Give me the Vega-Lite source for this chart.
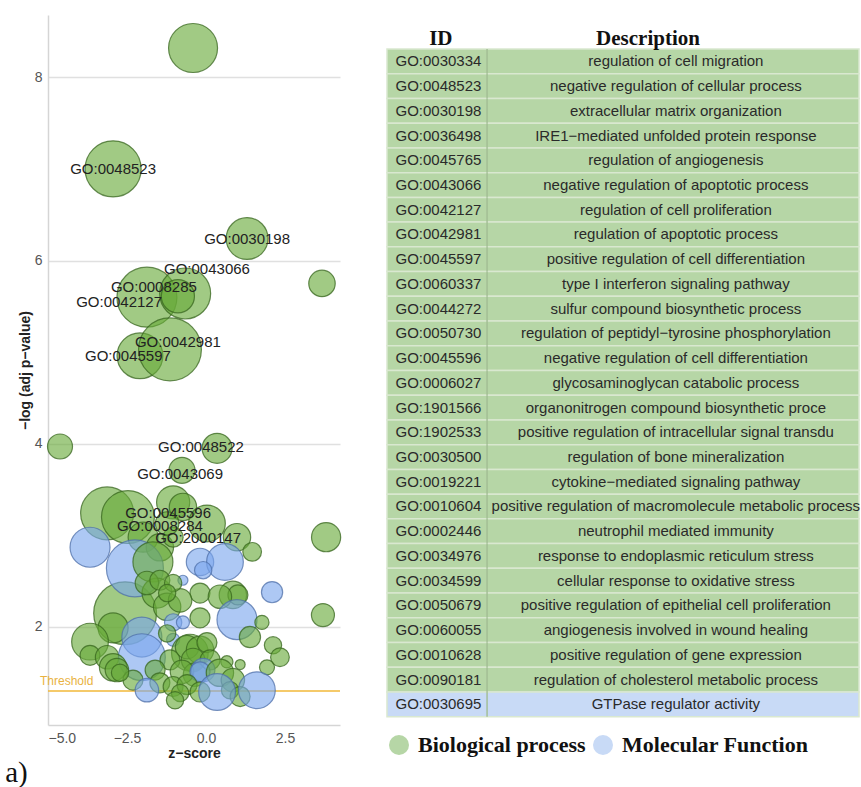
{
  "$schema": "https://vega.github.io/schema/vega-lite/v6.json",
  "background": "white",
  "padding": {"left": 5, "top": 15, "right": 0, "bottom": 0},
  "spacing": 42,
  "title": {"text": "a)", "orient": "bottom", "anchor": "start", "font": "Liberation Serif", "fontSize": 29, "fontWeight": "normal", "color": "#111111", "dx": -13, "offset": -1},
  "config": {
    "view": {"stroke": null},
    "font": "Liberation Sans",
    "axis": {
      "ticks": false,
      "labelFont": "Liberation Sans",
      "labelFontSize": 14,
      "labelColor": "#555555",
      "titleFont": "Liberation Sans",
      "titleFontSize": 14,
      "titleFontWeight": "bold",
      "titleColor": "#222222",
      "domainColor": "#d5d5d5",
      "domainWidth": 1.5,
      "gridColor": "#e0e0e0",
      "gridWidth": 1.5
    }
  },
  "resolve": {"scale": {"x": "independent", "y": "independent", "fill": "independent", "stroke": "independent", "color": "independent", "size": "independent"}, "legend": {"fill": "independent"}},
  "hconcat": [
    {
      "width": 292,
      "height": 710,
      "layer": [
        {
          "data": {"values": [{"logp": 1.3}]},
          "mark": {"type": "rule", "color": "#f2b838", "strokeWidth": 1.5},
          "encoding": {
            "y": {"field": "logp", "type": "quantitative", "title": "−log (adj p−value)", "scale": {"domain": [0.93, 8.68], "nice": false, "zero": false}}
          }
        },
        {
          "data": {"values": [{"logp": 1.3}]},
          "mark": {"type": "text", "text": "Threshold", "align": "left", "baseline": "bottom", "dx": -8, "dy": -3, "fontSize": 12, "color": "#e9b23f"},
          "encoding": {
            "x": {"datum": -5, "type": "quantitative", "title": "z−score", "scale": {"domain": [-5, 4.24], "nice": false, "zero": false}},
            "y": {"field": "logp", "type": "quantitative", "title": "−log (adj p−value)", "scale": {"domain": [0.93, 8.68], "nice": false, "zero": false}}
          }
        },
        {
          "data": {"values": [
            {"z": -0.41, "logp": 8.32, "count": 48, "ont": "BP"},
            {"z": -2.94, "logp": 7.00, "count": 63, "ont": "BP"},
            {"z": 1.30, "logp": 6.24, "count": 35, "ont": "BP"},
            {"z": 3.67, "logp": 5.75, "count": 14, "ont": "BP"},
            {"z": -1.87, "logp": 5.60, "count": 72, "ont": "BP"},
            {"z": -0.66, "logp": 5.64, "count": 52, "ont": "BP"},
            {"z": -0.89, "logp": 5.61, "count": 22, "ont": "BP"},
            {"z": -2.09, "logp": 4.96, "count": 42, "ont": "BP"},
            {"z": -1.14, "logp": 5.03, "count": 79, "ont": "BP"},
            {"z": -4.62, "logp": 3.97, "count": 12.5, "ont": "BP"},
            {"z": 0.35, "logp": 3.95, "count": 18, "ont": "BP"},
            {"z": -0.76, "logp": 3.71, "count": 13.5, "ont": "BP"},
            {"z": 3.80, "logp": 2.98, "count": 17, "ont": "BP"},
            {"z": 3.70, "logp": 2.13, "count": 10.6, "ont": "BP"},
            {"z": -3.13, "logp": 3.24, "count": 56, "ont": "BP"},
            {"z": -2.47, "logp": 3.20, "count": 56, "ont": "BP"},
            {"z": -2.56, "logp": 2.15, "count": 79, "ont": "BP"},
            {"z": -1.04, "logp": 3.36, "count": 22, "ont": "BP"},
            {"z": -0.73, "logp": 3.31, "count": 15, "ont": "BP"},
            {"z": 0.03, "logp": 3.13, "count": 27, "ont": "BP"},
            {"z": 0.98, "logp": 2.98, "count": 15, "ont": "BP"},
            {"z": 1.46, "logp": 2.82, "count": 7, "ont": "BP"},
            {"z": -1.99, "logp": 2.98, "count": 18, "ont": "BP"},
            {"z": -1.46, "logp": 2.87, "count": 15, "ont": "BP"},
            {"z": -1.04, "logp": 2.98, "count": 8, "ont": "BP"},
            {"z": -1.23, "logp": 3.13, "count": 11, "ont": "BP"},
            {"z": -3.67, "logp": 2.87, "count": 32, "ont": "MF"},
            {"z": -2.25, "logp": 2.64, "count": 65, "ont": "MF"},
            {"z": -1.68, "logp": 2.71, "count": 32, "ont": "BP"},
            {"z": -0.19, "logp": 2.71, "count": 15, "ont": "MF"},
            {"z": 0.60, "logp": 2.71, "count": 27, "ont": "MF"},
            {"z": -0.09, "logp": 2.62, "count": 6, "ont": "MF"},
            {"z": -0.73, "logp": 2.51, "count": 2, "ont": "MF"},
            {"z": 2.09, "logp": 2.38, "count": 9, "ont": "MF"},
            {"z": -0.19, "logp": 2.37, "count": 8, "ont": "BP"},
            {"z": 0.85, "logp": 2.35, "count": 15, "ont": "BP"},
            {"z": 1.01, "logp": 2.35, "count": 8, "ont": "BP"},
            {"z": 0.44, "logp": 2.33, "count": 11, "ont": "BP"},
            {"z": -1.55, "logp": 2.37, "count": 18, "ont": "BP"},
            {"z": -1.23, "logp": 2.22, "count": 15, "ont": "BP"},
            {"z": -0.82, "logp": 2.29, "count": 11, "ont": "BP"},
            {"z": -1.87, "logp": 2.48, "count": 11, "ont": "BP"},
            {"z": -1.46, "logp": 2.51, "count": 8, "ont": "BP"},
            {"z": -1.04, "logp": 2.48, "count": 6, "ont": "BP"},
            {"z": -1.23, "logp": 2.37, "count": 6, "ont": "BP"},
            {"z": 0.98, "logp": 2.08, "count": 32, "ont": "MF"},
            {"z": 1.77, "logp": 2.05, "count": 4, "ont": "BP"},
            {"z": -1.04, "logp": 2.05, "count": 6, "ont": "MF"},
            {"z": -0.73, "logp": 2.05, "count": 3.4, "ont": "MF"},
            {"z": -0.19, "logp": 2.10, "count": 8, "ont": "BP"},
            {"z": 1.39, "logp": 1.89, "count": 9, "ont": "BP"},
            {"z": -2.94, "logp": 1.99, "count": 18, "ont": "BP"},
            {"z": -3.67, "logp": 1.84, "count": 27, "ont": "BP"},
            {"z": -3.67, "logp": 1.69, "count": 8, "ont": "BP"},
            {"z": -3.13, "logp": 1.67, "count": 11, "ont": "BP"},
            {"z": -2.03, "logp": 1.89, "count": 32, "ont": "MF"},
            {"z": -2.03, "logp": 1.67, "count": 44, "ont": "MF"},
            {"z": -1.04, "logp": 1.86, "count": 3.4, "ont": "MF"},
            {"z": -2.94, "logp": 1.56, "count": 15, "ont": "BP"},
            {"z": -2.82, "logp": 1.53, "count": 11, "ont": "BP"},
            {"z": -1.23, "logp": 1.93, "count": 6, "ont": "BP"},
            {"z": -0.51, "logp": 1.72, "count": 27, "ont": "BP"},
            {"z": -0.60, "logp": 1.78, "count": 11, "ont": "BP"},
            {"z": -0.19, "logp": 1.75, "count": 15, "ont": "BP"},
            {"z": -0.41, "logp": 1.64, "count": 11, "ont": "BP"},
            {"z": 0.03, "logp": 1.83, "count": 8, "ont": "BP"},
            {"z": 2.12, "logp": 1.80, "count": 6, "ont": "BP"},
            {"z": 2.34, "logp": 1.67, "count": 7, "ont": "BP"},
            {"z": 1.93, "logp": 1.56, "count": 4.5, "ont": "BP"},
            {"z": 1.08, "logp": 1.59, "count": 2, "ont": "BP"},
            {"z": 0.66, "logp": 1.62, "count": 3, "ont": "BP"},
            {"z": -1.14, "logp": 1.64, "count": 8, "ont": "BP"},
            {"z": -1.61, "logp": 1.53, "count": 8, "ont": "BP"},
            {"z": -0.35, "logp": 1.48, "count": 11, "ont": "BP"},
            {"z": 0.13, "logp": 1.64, "count": 8, "ont": "BP"},
            {"z": -0.76, "logp": 1.51, "count": 11, "ont": "BP"},
            {"z": -0.09, "logp": 1.53, "count": 11, "ont": "MF"},
            {"z": -0.19, "logp": 1.51, "count": 8, "ont": "MF"},
            {"z": 0.44, "logp": 1.50, "count": 15, "ont": "BP"},
            {"z": 0.85, "logp": 1.42, "count": 11, "ont": "BP"},
            {"z": -1.46, "logp": 1.39, "count": 8, "ont": "BP"},
            {"z": -1.04, "logp": 1.35, "count": 8, "ont": "BP"},
            {"z": -0.60, "logp": 1.37, "count": 8, "ont": "BP"},
            {"z": -2.31, "logp": 1.42, "count": 8, "ont": "BP"},
            {"z": -2.72, "logp": 1.50, "count": 6, "ont": "BP"},
            {"z": -0.19, "logp": 1.29, "count": 8, "ont": "BP"},
            {"z": -0.82, "logp": 1.28, "count": 6, "ont": "BP"},
            {"z": -0.98, "logp": 1.20, "count": 6, "ont": "BP"},
            {"z": 0.76, "logp": 1.31, "count": 6, "ont": "BP"},
            {"z": 1.08, "logp": 1.24, "count": 8, "ont": "BP"},
            {"z": 1.61, "logp": 1.31, "count": 27, "ont": "MF"},
            {"z": 0.35, "logp": 1.29, "count": 27, "ont": "MF"},
            {"z": -1.87, "logp": 1.31, "count": 11, "ont": "MF"}
          ]},
          "mark": {"type": "circle", "fillOpacity": 0.62, "strokeWidth": 1.2, "strokeOpacity": 0.75},
          "encoding": {
            "x": {"field": "z", "type": "quantitative", "title": "z−score", "scale": {"domain": [-5, 4.24], "nice": false, "zero": false}, "axis": {"values": [-5, -2.5, 0, 2.5], "format": ".1f", "labelPadding": 6, "titlePadding": 1}},
            "y": {"field": "logp", "type": "quantitative", "title": "−log (adj p−value)", "scale": {"domain": [0.93, 8.68], "nice": false, "zero": false}, "axis": {"values": [2, 4, 6, 8], "format": "d", "labelPadding": 6, "titlePadding": 2}},
            "size": {"field": "count", "type": "quantitative", "scale": {"type": "linear", "domain": [0, 80], "range": [0, 4000]}, "legend": null},
            "fill": {"field": "ont", "type": "nominal", "scale": {"domain": ["BP", "MF"], "range": ["#68a938", "#7aa6ee"]}, "legend": null},
            "stroke": {"field": "ont", "type": "nominal", "scale": {"domain": ["BP", "MF"], "range": ["#37661d", "#4d6fa8"]}, "legend": null}
          }
        },
        {
          "data": {"values": [
            {"label": "GO:0048523", "z": -2.94, "logp": 7.00},
            {"label": "GO:0030198", "z": 1.30, "logp": 6.24},
            {"label": "GO:0043066", "z": 0.03, "logp": 5.91},
            {"label": "GO:0008285", "z": -1.65, "logp": 5.71},
            {"label": "GO:0042127", "z": -2.75, "logp": 5.55},
            {"label": "GO:0042981", "z": -0.89, "logp": 5.11},
            {"label": "GO:0045597", "z": -2.47, "logp": 4.96},
            {"label": "GO:0048522", "z": -0.16, "logp": 3.96},
            {"label": "GO:0043069", "z": -0.82, "logp": 3.67},
            {"label": "GO:0045596", "z": -1.20, "logp": 3.24},
            {"label": "GO:0008284", "z": -1.46, "logp": 3.10},
            {"label": "GO:2000147", "z": -0.25, "logp": 2.97}
          ]},
          "mark": {"type": "text", "fontSize": 15, "color": "#222222"},
          "encoding": {
            "x": {"field": "z", "type": "quantitative", "title": "z−score", "scale": {"domain": [-5, 4.24], "nice": false, "zero": false}},
            "y": {"field": "logp", "type": "quantitative", "title": "−log (adj p−value)", "scale": {"domain": [0.93, 8.68], "nice": false, "zero": false}},
            "text": {"field": "label"}
          }
        }
      ]
    },
    {
      "width": 472,
      "height": 710,
      "data": {"values": [
        {"id": "GO:0030334", "desc": "regulation of cell migration", "cat": "Biological process"},
        {"id": "GO:0048523", "desc": "negative regulation of cellular process", "cat": "Biological process"},
        {"id": "GO:0030198", "desc": "extracellular matrix organization", "cat": "Biological process"},
        {"id": "GO:0036498", "desc": "IRE1−mediated unfolded protein response", "cat": "Biological process"},
        {"id": "GO:0045765", "desc": "regulation of angiogenesis", "cat": "Biological process"},
        {"id": "GO:0043066", "desc": "negative regulation of apoptotic process", "cat": "Biological process"},
        {"id": "GO:0042127", "desc": "regulation of cell proliferation", "cat": "Biological process"},
        {"id": "GO:0042981", "desc": "regulation of apoptotic process", "cat": "Biological process"},
        {"id": "GO:0045597", "desc": "positive regulation of cell differentiation", "cat": "Biological process"},
        {"id": "GO:0060337", "desc": "type I interferon signaling pathway", "cat": "Biological process"},
        {"id": "GO:0044272", "desc": "sulfur compound biosynthetic process", "cat": "Biological process"},
        {"id": "GO:0050730", "desc": "regulation of peptidyl−tyrosine phosphorylation", "cat": "Biological process"},
        {"id": "GO:0045596", "desc": "negative regulation of cell differentiation", "cat": "Biological process"},
        {"id": "GO:0006027", "desc": "glycosaminoglycan catabolic process", "cat": "Biological process"},
        {"id": "GO:1901566", "desc": "organonitrogen compound biosynthetic proce", "cat": "Biological process"},
        {"id": "GO:1902533", "desc": "positive regulation of intracellular signal transdu", "cat": "Biological process"},
        {"id": "GO:0030500", "desc": "regulation of bone mineralization", "cat": "Biological process"},
        {"id": "GO:0019221", "desc": "cytokine−mediated signaling pathway", "cat": "Biological process"},
        {"id": "GO:0010604", "desc": "positive regulation of macromolecule metabolic process", "cat": "Biological process"},
        {"id": "GO:0002446", "desc": "neutrophil mediated immunity", "cat": "Biological process"},
        {"id": "GO:0034976", "desc": "response to endoplasmic reticulum stress", "cat": "Biological process"},
        {"id": "GO:0034599", "desc": "cellular response to oxidative stress", "cat": "Biological process"},
        {"id": "GO:0050679", "desc": "positive regulation of epithelial cell proliferation", "cat": "Biological process"},
        {"id": "GO:0060055", "desc": "angiogenesis involved in wound healing", "cat": "Biological process"},
        {"id": "GO:0010628", "desc": "positive regulation of gene expression", "cat": "Biological process"},
        {"id": "GO:0090181", "desc": "regulation of cholesterol metabolic process", "cat": "Biological process"},
        {"id": "GO:0030695", "desc": "GTPase regulator activity", "cat": "Molecular Function"}
      ]},
      "encoding": {
        "y": {
          "field": "id", "type": "nominal", "axis": null,
          "scale": {
            "domain": ["header", "GO:0030334", "GO:0048523", "GO:0030198", "GO:0036498", "GO:0045765", "GO:0043066", "GO:0042127", "GO:0042981", "GO:0045597", "GO:0060337", "GO:0044272", "GO:0050730", "GO:0045596", "GO:0006027", "GO:1901566", "GO:1902533", "GO:0030500", "GO:0019221", "GO:0010604", "GO:0002446", "GO:0034976", "GO:0034599", "GO:0050679", "GO:0060055", "GO:0010628", "GO:0090181", "GO:0030695"],
            "range": [9.27, 701.7],
            "paddingInner": 0,
            "paddingOuter": 0
          }
        }
      },
      "layer": [
        {
          "mark": {"type": "rect", "stroke": "#d9e8d0", "strokeWidth": 1.5},
          "encoding": {
            "x": {"datum": 0, "type": "quantitative", "scale": {"domain": [0, 1], "nice": false, "zero": false}, "axis": null},
            "x2": {"datum": 1},
            "fill": {
              "field": "cat", "type": "nominal",
              "scale": {"domain": ["Biological process", "Molecular Function"], "range": ["#b6d6a6", "#c8daf6"]},
              "legend": {
                "orient": "none", "legendX": 1, "legendY": 719, "direction": "horizontal", "title": null,
                "symbolType": "circle", "symbolSize": 400, "symbolOpacity": 1, "symbolStrokeWidth": 0,
                "labelFont": "Liberation Serif", "labelFontSize": 22, "labelFontWeight": "bold", "labelColor": "#111111",
                "labelOffset": 8, "columnPadding": 6, "labelLimit": 0,
                "encode": {"symbols": {"update": {"fill": {"signal": "datum.value === 'Molecular Function' ? '#a4c2f4' : '#8cc152'"}, "opacity": {"value": 1}, "fillOpacity": {"value": 1}, "stroke": {"value": "transparent"}}}}
              }
            }
          }
        },
        {
          "mark": {"type": "rect", "color": "#a2bd94"},
          "encoding": {
            "x": {"datum": 0.2105, "type": "quantitative", "axis": null},
            "x2": {"datum": 0.2135}
          }
        },
        {
          "mark": {"type": "text", "fontSize": 15, "color": "#2a2a2a"},
          "encoding": {
            "x": {"datum": 0.109, "type": "quantitative", "axis": null},
            "text": {"field": "id"}
          }
        },
        {
          "mark": {"type": "text", "fontSize": 15, "color": "#2a2a2a"},
          "encoding": {
            "x": {"datum": 0.612, "type": "quantitative", "axis": null},
            "text": {"field": "desc"}
          }
        },
        {
          "data": {"values": [{"col": "ID"}]},
          "mark": {"type": "text", "text": "ID", "font": "Liberation Serif", "fontSize": 21, "fontWeight": "bold", "color": "#111111", "dy": 2},
          "encoding": {
            "x": {"datum": 0.114, "type": "quantitative", "axis": null},
            "y": {"datum": "header", "type": "nominal"}
          }
        },
        {
          "data": {"values": [{"col": "Description"}]},
          "mark": {"type": "text", "text": "Description", "font": "Liberation Serif", "fontSize": 21, "fontWeight": "bold", "color": "#111111", "dy": 2},
          "encoding": {
            "x": {"datum": 0.553, "type": "quantitative", "axis": null},
            "y": {"datum": "header", "type": "nominal"}
          }
        }
      ]
    }
  ]
}
